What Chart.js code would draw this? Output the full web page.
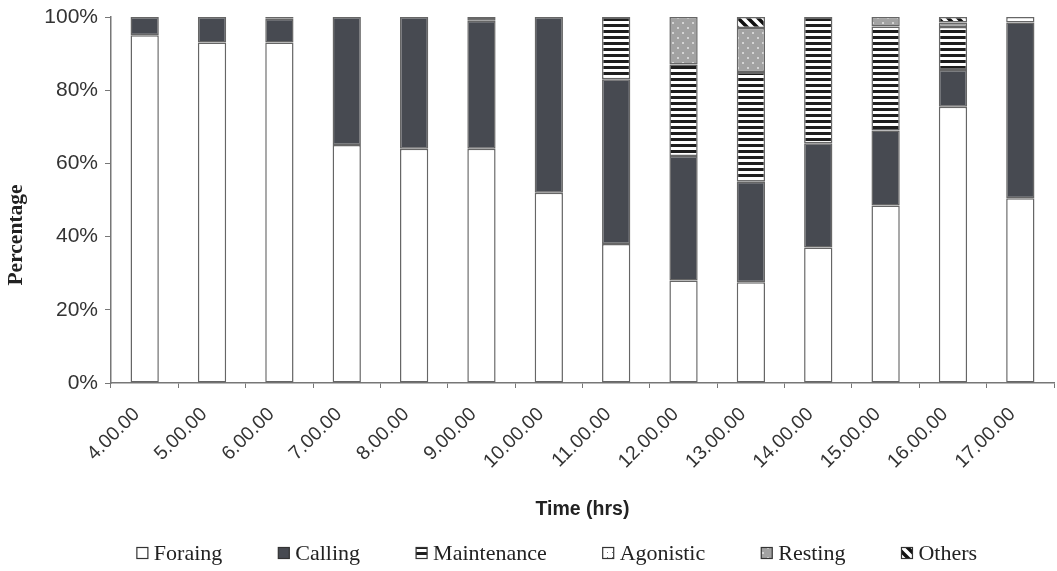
<!DOCTYPE html>
<html>
<head>
<meta charset="utf-8">
<script src="https://cdn.jsdelivr.net/npm/chart.js@4"></script>
<style>
  html, body { margin: 0; padding: 0; background: #fff; }
  #wrap { width: 1057px; height: 571px; }
</style>
</head>
<body>
<div id="wrap"><canvas id="chart"></canvas></div>
<script>
// time slots (x axis)
const hours = ['4.00.00', '5.00.00', '6.00.00', '7.00.00', '8.00.00', '9.00.00', '10.00.00',
               '11.00.00', '12.00.00', '13.00.00', '14.00.00', '15.00.00', '16.00.00', '17.00.00'];

// percentage of time per behaviour
const foraging    = [95, 93, 93, 65, 64, 64, 52, 38, 28, 27.5, 37, 48.5, 75.5, 50.5];
const calling     = [5, 7, 6.5, 35, 36, 35, 48, 45, 34, 27.5, 28.5, 20.5, 10, 48];
const maintenance = [0, 0, 0.5, 0, 0, 1, 0, 17, 25, 30, 34.5, 28.4, 11.8, 0];
const agonistic   = [0, 0, 0, 0, 0, 0, 0, 0, 0, 0, 0, 0, 0, 1.5];
const resting     = [0, 0, 0, 0, 0, 0, 0, 0, 13, 12, 0, 2.6, 1.2, 0];
const others      = [0, 0, 0, 0, 0, 0, 0, 0, 0, 3, 0, 0, 1.5, 0];

const yTicks = [0, 20, 40, 60, 80, 100];

// little pattern tiles to imitate the excel fills
function makePattern(w, h, draw) {
    const c = document.createElement('canvas');
    c.width = w; c.height = h;
    const g = c.getContext('2d');
    draw(g, w, h);
    return g.createPattern(c, 'repeat');
}

const stripes = makePattern(6, 6, (g, w, h) => {
    g.fillStyle = '#fff'; g.fillRect(0, 0, w, h);
    g.fillStyle = '#1e1e1e'; g.fillRect(0, 0, w, 3);
});
const dotsLight = makePattern(5, 5, (g, w, h) => {
    g.fillStyle = '#fff'; g.fillRect(0, 0, w, h);
    g.fillStyle = '#777'; g.fillRect(2, 2, 1, 1);
});
const dotsGray = makePattern(10, 10, (g, w, h) => {
    g.fillStyle = '#a2a2a2'; g.fillRect(0, 0, w, h);
    g.fillStyle = '#d4d4d4';
    g.fillRect(2, 2, 2, 2); g.fillRect(7, 7, 2, 2);
});
const diagonal = makePattern(10, 10, (g, w, h) => {
    g.fillStyle = '#fff'; g.fillRect(0, 0, w, h);
    g.strokeStyle = '#111'; g.lineWidth = 3.5;
    g.beginPath();
    g.moveTo(-5, -5); g.lineTo(15, 15);
    g.moveTo(-5, 5); g.lineTo(5, 15);
    g.moveTo(5, -5); g.lineTo(15, 5);
    g.stroke();
});

const series = [
    { label: 'Foraing', data: foraging, fill: '#ffffff' },
    { label: 'Calling', data: calling, fill: '#474a51' },
    { label: 'Maintenance', data: maintenance, fill: stripes },
    { label: 'Agonistic', data: agonistic, fill: dotsLight },
    { label: 'Resting', data: resting, fill: dotsGray },
    { label: 'Others', data: others, fill: diagonal }
];

// axis titles + legend drawn by hand so they sit where the original has them
const extras = {
    id: 'extras',
    afterDraw(chart) {
        const ctx = chart.ctx;
        const area = chart.chartArea;
        ctx.save();
        ctx.fillStyle = '#222';
        ctx.textAlign = 'center';
        ctx.textBaseline = 'middle';

        ctx.font = 'bold 19.5px "Liberation Sans"';
        ctx.fillText('Time (hrs)', (area.left + area.right) / 2, 510);

        ctx.save();
        ctx.translate(16, 235);
        ctx.rotate(-Math.PI / 2);
        ctx.font = 'bold 21.5px "Liberation Serif"';
        ctx.fillText('Percentage', 0, 0);
        ctx.restore();

        // legend row
        ctx.font = '22px "Liberation Serif"';
        ctx.textAlign = 'left';
        const box = 11, gap = 6, spacing = 56, y = 553;
        const widths = chart.data.datasets.map(ds => box + gap + ctx.measureText(ds.label).width);
        const total = widths.reduce((a, b) => a + b, 0) + spacing * (widths.length - 1);
        let x = 557 - total / 2;
        chart.data.datasets.forEach((ds, i) => {
            ctx.fillStyle = ds.backgroundColor;
            ctx.fillRect(x, y - box / 2, box, box);
            ctx.strokeStyle = '#333';
            ctx.lineWidth = 1.2;
            ctx.strokeRect(x, y - box / 2, box, box);
            ctx.fillStyle = '#222';
            ctx.fillText(ds.label, x + box + gap, y + 1);
            x += widths[i] + spacing;
        });
        ctx.restore();
    }
};

new Chart(document.getElementById('chart'), {
    type: 'bar',
    data: {
        labels: hours,
        datasets: series.map(s => ({
            label: s.label,
            data: s.data,
            backgroundColor: s.fill,
            borderColor: '#666',
            // no outline on empty segments
            borderWidth: c => (c.raw ? 1.5 : 0),
            borderSkipped: false,
            barPercentage: 0.42,
            categoryPercentage: 1
        }))
    },
    options: {
        responsive: true,
        maintainAspectRatio: false,
        animation: false,
        layout: { padding: { top: 17, right: 3, left: 0, bottom: 0 } },
        plugins: {
            legend: { display: false },
            tooltip: { enabled: false }
        },
        scales: {
            x: {
                stacked: true,
                grid: { display: true, drawOnChartArea: false, offset: true, tickLength: 5, color: '#777' },
                border: { color: '#777', width: 1.5 },
                ticks: {
                    autoSkip: false,
                    minRotation: 45,
                    maxRotation: 45,
                    padding: 15,
                    labelOffset: -8,
                    color: '#333',
                    font: { family: 'Liberation Sans', size: 19.5 }
                },
                afterFit: scale => { scale.height = 188; }
            },
            y: {
                stacked: true,
                min: 0,
                max: 100,
                afterBuildTicks: scale => { scale.ticks = yTicks.map(v => ({ value: v })); },
                ticks: {
                    callback: v => v + '%',
                    padding: 7,
                    color: '#333',
                    font: { family: 'Liberation Sans', size: 21 }
                },
                grid: { display: true, drawOnChartArea: false, tickLength: 6, color: '#777' },
                border: { color: '#777', width: 1.5 },
                afterFit: scale => {
                    scale.width = 111;
                    scale.paddingTop = 0;
                    scale.paddingBottom = 0;
                }
            }
        }
    },
    plugins: [extras]
});
</script>
</body>
</html>
